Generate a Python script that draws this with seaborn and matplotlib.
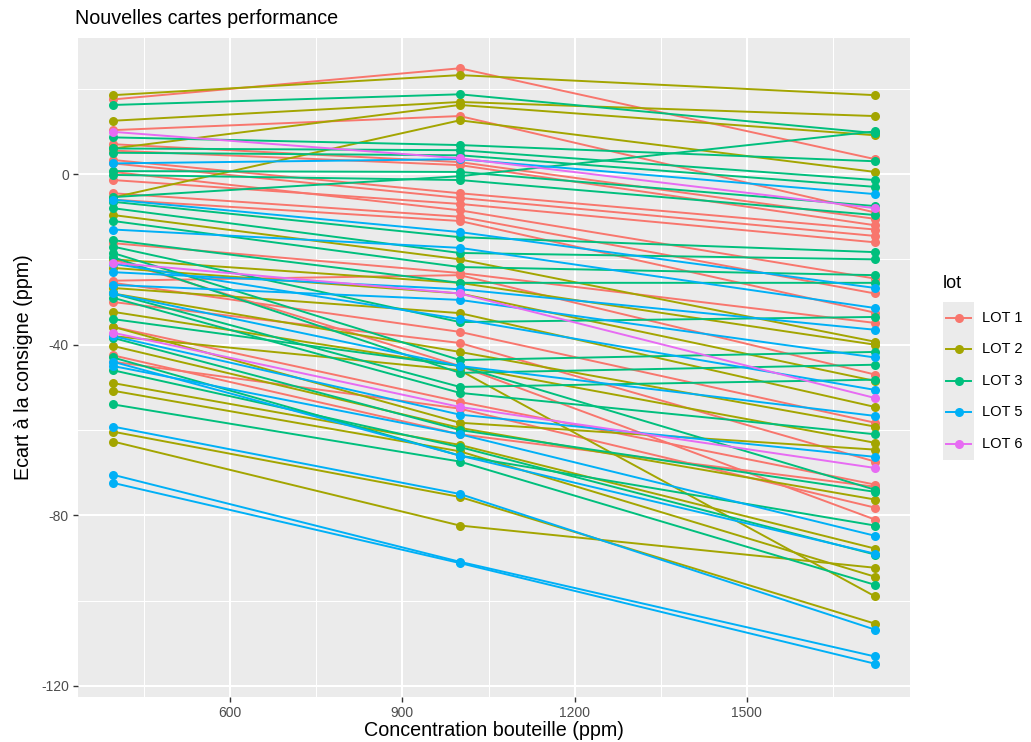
import numpy as np
import pandas as pd
import matplotlib
matplotlib.use("Agg")
import matplotlib.pyplot as plt
from matplotlib.lines import Line2D
from matplotlib.patches import Rectangle
import seaborn as sns

# Measured bottle concentrations (ppm) at which each card was tested
concentrations = [396, 1000, 1723]

# Deviation from set point (ppm) per card: [low, mid, high concentration]
lot1 = [
    [17.5, 24.8, 3.5], [10.3, 13.6, -9.0], [7.0, 2.8, -10.5], [5.5, 2.1, -12.0],
    [3.3, -4.5, -13.0], [2.5, -5.6, -14.5], [-1.4, -7.0, -16.0], [0.5, -8.5, -24.5],
    [-4.5, -10.0, -28.0], [-6.0, -11.0, -32.5], [-16.2, -23.2, -34.9],
    [-25.0, -23.7, -47.0], [-25.5, -37.0, -58.3], [-30.0, -39.6, -67.4],
    [-35.8, -53.4, -72.8], [-42.5, -61.0, -73.3], [-44.0, -55.0, -78.2],
    [-20.0, -45.0, -81.0],
]
lot2 = [
    [18.5, 23.2, 18.5], [12.5, 16.9, 13.6], [6.0, 16.2, 9.1], [-5.5, 12.6, 0.5],
    [-9.6, -20.0, -39.3], [-20.0, -25.5, -40.0], [-22.0, -28.0, -48.5],
    [-26.7, -32.6, -54.6], [-28.0, -41.7, -59.2], [-32.3, -45.0, -63.0],
    [-35.8, -58.3, -64.6], [-40.3, -59.5, -76.3], [-49.0, -63.5, -87.8],
    [-50.8, -65.0, -94.4], [-60.4, -75.7, -105.4], [-62.7, -82.4, -92.3],
    [-38.0, -46.0, -99.0],
]
lot3 = [
    [16.2, 18.7, 9.6], [8.6, 6.8, 3.0], [6.0, 5.6, -1.4], [5.0, 4.4, -3.0],
    [0.7, 0.5, -7.5], [-0.2, -1.4, -9.6], [-5.4, -0.5, 10.0], [-6.5, -14.8, -18.3],
    [-8.0, -18.5, -20.0], [-11.0, -21.8, -23.7], [-15.5, -25.5, -25.5],
    [-17.0, -34.7, -33.5], [-18.5, -43.6, -41.7], [-19.5, -46.6, -44.7],
    [-28.0, -49.9, -48.2], [-29.0, -51.3, -61.0], [-34.0, -45.0, -74.0],
    [-38.4, -60.0, -74.5], [-43.0, -66.0, -82.4], [-46.0, -64.0, -89.2],
    [-54.0, -67.4, -96.3],
]
lot5 = [
    [2.5, 3.5, -4.7], [-6.0, -13.6, -26.7], [-13.0, -17.3, -31.4],
    [-23.0, -27.0, -36.5], [-26.0, -29.5, -43.0], [-21.0, -34.0, -50.6],
    [-28.0, -45.0, -56.7], [-38.0, -56.4, -66.3], [-45.0, -61.0, -84.8],
    [-44.0, -66.0, -89.0], [-59.2, -75.0, -106.8], [-70.5, -90.9, -113.1],
    [-72.4, -91.2, -114.8],
]
lot6 = [
    [9.9, 3.7, -8.0], [-20.8, -28.0, -52.5], [-37.2, -54.6, -68.9],
]

lot_names = ["LOT 1", "LOT 2", "LOT 3", "LOT 5", "LOT 6"]
lot_colors = ["#F8766D", "#A3A500", "#00BF7D", "#00B0F6", "#E76BF3"]
lot_series = [lot1, lot2, lot3, lot5, lot6]

# Long table: one row per measurement, one unit per card
rows = []
card = 0
for name, cards in zip(lot_names, lot_series):
    for vals in cards:
        for c, v in zip(concentrations, vals):
            rows.append({"card": card, "lot": name, "conc": c, "ecart": v})
        card += 1
df = pd.DataFrame(rows)

plt.rcParams["font.family"] = ["Liberation Sans", "DejaVu Sans"]
plt.rcParams["axes.unicode_minus"] = False
font = ["Liberation Sans", "DejaVu Sans"]

W, H = 1031, 742
fig = plt.figure(figsize=(W / 100, H / 100), dpi=100)
fig.patch.set_facecolor("white")
ax = fig.add_axes([78 / W, 1 - 697 / H, (910 - 78) / W, (697 - 38) / H])

ax.set_facecolor("#EBEBEB")
palette = dict(zip(lot_names, lot_colors))
sns.lineplot(
    data=df, x="conc", y="ecart", hue="lot", units="card", estimator=None,
    palette=palette, marker="o", markersize=6.5, markeredgewidth=0,
    linewidth=1.4, legend=False, ax=ax, zorder=3,
)

ax.set_xlim(335, 1784)
ax.set_ylim(-122.6, 31.9)

ax.set_xticks([600, 900, 1200, 1500])
ax.set_yticks([-120, -80, -40, 0])
ax.set_xticks([450, 750, 1050, 1350, 1650], minor=True)
ax.set_yticks([-100, -60, -20, 20], minor=True)
ax.grid(True, which="major", color="white", linewidth=1.5, zorder=0)
ax.grid(True, which="minor", color="white", linewidth=0.75, zorder=0)
ax.set_axisbelow(True)
for s in ax.spines.values():
    s.set_visible(False)
ax.tick_params(which="major", length=3.5, width=1.0, color="#333333",
               labelsize=10, labelcolor="#4D4D4D", pad=3)
ax.tick_params(which="minor", length=0)
for lab in ax.get_xticklabels() + ax.get_yticklabels():
    lab.set_family(font)

ax.set_xlabel("Concentration bouteille (ppm)", fontsize=14.2, family=font,
              color="black", labelpad=1)
ax.set_ylabel("Ecart à la consigne (ppm)", fontsize=14.2, family=font,
              color="black", labelpad=6)

fig.text(75 / W, 1 - 18 / H, "Nouvelles cartes performance", fontsize=14.2,
         family=font, ha="left", va="center", color="black")

# Legend
fig.text(943 / W, 1 - 284 / H, "lot", fontsize=13, family=font,
         ha="left", va="center", color="black")
key_top, key_h = 302, 31.5
fig.add_artist(Rectangle((943 / W, 1 - (key_top + key_h * 5) / H),
                         31 / W, key_h * 5 / H, transform=fig.transFigure,
                         facecolor="#EBEBEB", edgecolor="none"))
for i, (name, col) in enumerate(zip(lot_names, lot_colors)):
    yc = key_top + key_h * (i + 0.5)
    fig.add_artist(Line2D([946 / W, 971 / W], [1 - yc / H, 1 - yc / H],
                          transform=fig.transFigure, color=col, linewidth=1.4))
    fig.add_artist(Line2D([958.5 / W], [1 - yc / H], transform=fig.transFigure,
                          color=col, marker="o", markersize=6.5,
                          markeredgewidth=0, linestyle="none"))
    fig.text(982 / W, 1 - yc / H, name, fontsize=10.5, family=font,
             ha="left", va="center", color="black")

fig.savefig("out.png", dpi=100, facecolor="white")
